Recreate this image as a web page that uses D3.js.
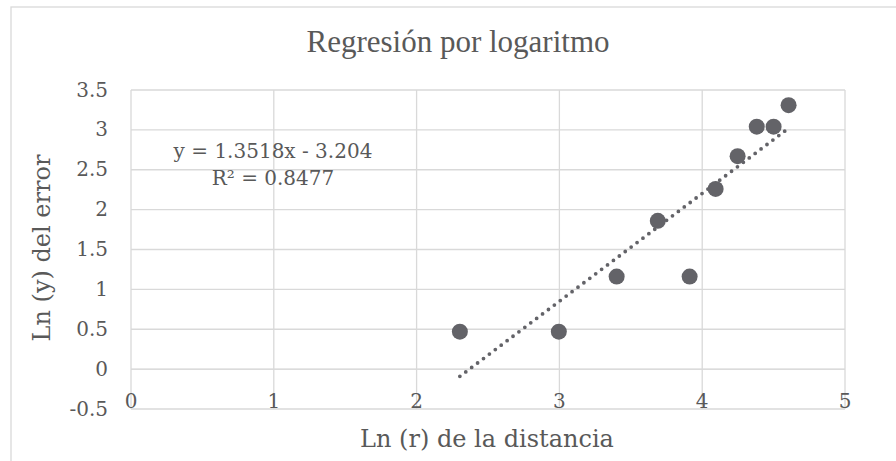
<!DOCTYPE html>
<html>
<head>
<meta charset="utf-8">
<script src="https://cdn.jsdelivr.net/npm/d3@7"></script>
<style>
  body { margin: 0; background: #fff; }
  text { fill: #595959; }
</style>
</head>
<body>
<figure id="scatter" style="margin:0"></figure>
<script>
// data
const lnDist = [2.303, 2.996, 3.401, 3.689, 3.912, 4.094, 4.248, 4.382, 4.500, 4.605];
const lnErr = [0.47, 0.47, 1.16, 1.86, 1.16, 2.26, 2.67, 3.04, 3.04, 3.31];
const xTicks = [0, 1, 2, 3, 4, 5];
const yTicks = [-0.5, 0, 0.5, 1, 1.5, 2, 2.5, 3, 3.5];
const slope = 1.3518, intercept = -3.204, r2 = 0.8477;

const width = 896, height = 461;
const plot = { left: 131, right: 845, top: 90, bottom: 409 };
const markColor = '#636368';
const gridColor = '#d9d9d9';
const numFont = "'DejaVu Serif', serif";

const svg = d3.select("figure#scatter")
  .append("svg")
  .attr("width", width)
  .attr("height", height);

// chart area border (cut by the window on right/bottom)
svg.append("rect")
  .attr("x", 11).attr("y", 7)
  .attr("width", 900).attr("height", 470)
  .attr("fill", "none")
  .attr("stroke", gridColor)
  .attr("stroke-width", 1.3);

const x = d3.scaleLinear().domain([0, 5]).range([plot.left, plot.right]);
const y = d3.scaleLinear().domain([-0.5, 3.5]).range([plot.bottom, plot.top]);

// grid
svg.append("g")
  .selectAll("line")
  .data(yTicks)
  .enter()
  .append("line")
  .attr("x1", plot.left).attr("x2", plot.right)
  .attr("y1", d => y(d)).attr("y2", d => y(d))
  .attr("stroke", d => d === 0 ? "#cfcfcf" : gridColor)
  .attr("stroke-width", 1.3);

svg.append("g")
  .selectAll("line")
  .data(xTicks)
  .enter()
  .append("line")
  .attr("x1", d => x(d)).attr("x2", d => x(d))
  .attr("y1", plot.top).attr("y2", plot.bottom)
  .attr("stroke", gridColor)
  .attr("stroke-width", 1.3);

// tick labels
svg.append("g")
  .selectAll("text")
  .data(yTicks)
  .enter()
  .append("text")
  .attr("x", 108)
  .attr("y", d => y(d) + 1)
  .attr("dominant-baseline", "middle")
  .attr("text-anchor", "end")
  .style("font-family", numFont)
  .style("font-size", "20px")
  .text(d => d);

svg.append("g")
  .selectAll("text")
  .data(xTicks)
  .enter()
  .append("text")
  .attr("x", d => x(d))
  .attr("y", 402)
  .attr("dominant-baseline", "middle")
  .attr("text-anchor", "middle")
  .style("font-family", numFont)
  .style("font-size", "20px")
  .text(d => d);

// trend line
const xr = d3.extent(lnDist);
svg.append("line")
  .attr("x1", x(xr[0])).attr("y1", y(slope * xr[0] + intercept))
  .attr("x2", x(xr[1])).attr("y2", y(slope * xr[1] + intercept))
  .attr("stroke", markColor)
  .attr("stroke-width", 3.8)
  .attr("stroke-linecap", "round")
  .attr("stroke-dasharray", "0 7.4");

// points
svg.append("g")
  .selectAll("circle")
  .data(lnDist)
  .enter()
  .append("circle")
  .attr("cx", d => x(d))
  .attr("cy", (d, i) => y(lnErr[i]))
  .attr("r", 8)
  .attr("fill", markColor);

// equation label
const eq = svg.append("text")
  .attr("text-anchor", "middle")
  .style("font-family", numFont)
  .style("font-size", "20px");
eq.append("tspan").attr("x", 273).attr("y", 158)
  .text("y = " + slope + "x - " + Math.abs(intercept));
eq.append("tspan").attr("x", 273).attr("y", 185)
  .text("R² = " + r2);

// titles
svg.append("text")
  .attr("x", 458).attr("y", 52)
  .attr("text-anchor", "middle")
  .style("font-family", "'Liberation Serif', serif")
  .style("font-size", "31px")
  .text("Regresión por logaritmo");

svg.append("text")
  .attr("x", 487).attr("y", 447)
  .attr("text-anchor", "middle")
  .style("font-family", numFont)
  .style("font-size", "24px")
  .text("Ln (r) de la distancia");

svg.append("text")
  .attr("transform", "translate(50,248) rotate(-90)")
  .attr("text-anchor", "middle")
  .style("font-family", numFont)
  .style("font-size", "24px")
  .text("Ln (y) del error");
</script>
</body>
</html>
